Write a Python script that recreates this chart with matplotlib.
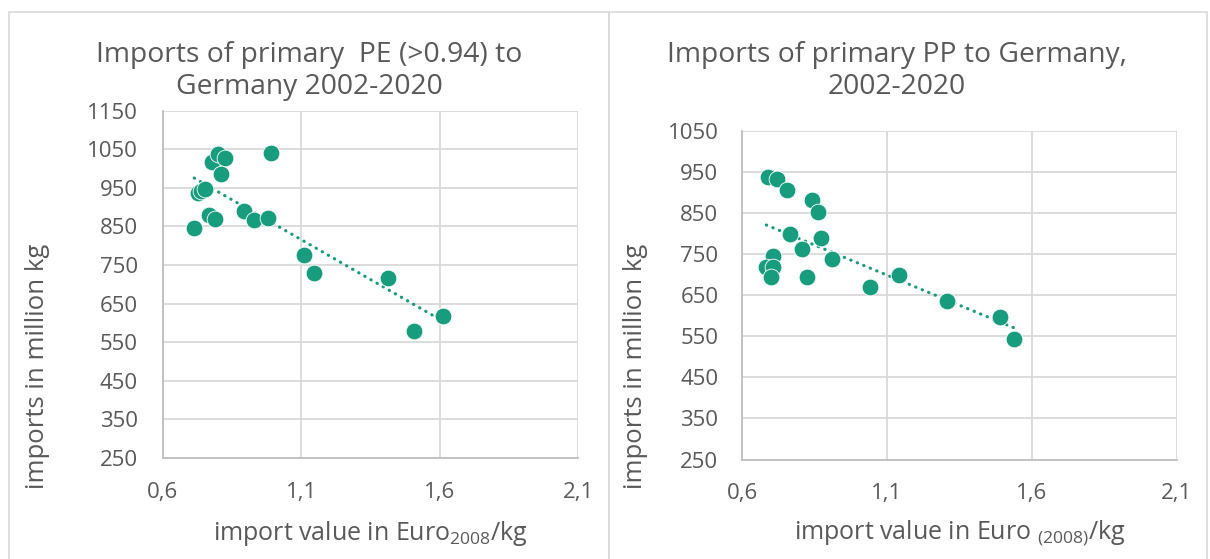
import numpy as np
import matplotlib
matplotlib.use("Agg")
import matplotlib.pyplot as plt
from matplotlib.patches import Rectangle

# PE imports (>0.94), 2002-2020
pe_value = [0.713, 0.725, 0.739, 0.751, 0.765, 0.788, 0.776, 0.800, 0.824, 0.808,
            0.990, 0.894, 0.930, 0.981, 1.111, 1.144, 1.412, 1.509, 1.612]
pe_amount = [847, 937, 942, 946, 880, 870, 1017, 1037, 1028, 985,
             1041, 890, 867, 873, 776, 730, 717, 579, 618]

# PP imports, 2002-2020
pp_value = [0.690, 0.722, 0.756, 0.843, 0.863, 0.767, 0.871, 0.808, 0.707, 0.684,
            0.707, 0.699, 0.824, 0.911, 1.040, 1.141, 1.308, 1.491, 1.538]
pp_amount = [938, 932, 905, 881, 852, 798, 790, 761, 745, 719,
             719, 693, 693, 737, 670, 699, 635, 596, 544]

xticks = [0.6, 1.1, 1.6, 2.1]
xtick_labels = ["0,6", "1,1", "1,6", "2,1"]
pe_yticks = list(range(250, 1151, 100))
pp_yticks = list(range(250, 1051, 100))

green = "#179C7D"
grey_txt = "#595959"
grid_col = "#D9D9D9"

plt.rcParams['font.family'] = ['Open Sans', 'DejaVu Sans']

fig = plt.figure(figsize=(12.1, 5.59), dpi=100)

# panel frames
for x0, w in [(9 / 1210, 600 / 1210), (609 / 1210, 598 / 1210)]:
    fig.add_artist(Rectangle((x0, -0.01), w, 1 - 12 / 559 + 0.01, transform=fig.transFigure,
                             fill=False, edgecolor=grid_col, linewidth=1.2))


def draw(ax, xs, ys, yticks, title, title_x, xlabel, ylabel_x, ypad):
    ax.set_xlim(0.6, 2.1)
    ax.set_ylim(yticks[0], yticks[-1])
    ax.set_xticks(xticks)
    ax.set_xticklabels(xtick_labels)
    ax.set_yticks(yticks)
    ax.grid(True, color=grid_col, linewidth=1.3)
    ax.set_axisbelow(True)
    for s in ["top", "right"]:
        ax.spines[s].set_visible(False)
    for s in ["left", "bottom"]:
        ax.spines[s].set_color("#BFBFBF")
        ax.spines[s].set_linewidth(1.3)
    ax.tick_params(length=0, labelsize=16, labelcolor=grey_txt, pad=17)
    ax.tick_params(axis="y", pad=ypad)

    ax.scatter(xs, ys, s=145, color=green, edgecolors="white", linewidths=0.6, zorder=3)

    # linear trend line
    k, d = np.polyfit(xs, ys, 1)
    tx = np.array([min(xs), max(xs)])
    ax.plot(tx, k * tx + d, color=green, linewidth=2.3,
            linestyle=(0, (0.1, 2.1)), dash_capstyle="round", zorder=2)

    fig.text(title_x, 1 - 71 / 559, title, ha="center", va="center",
             fontsize=20.3, color=grey_txt, linespacing=1.2)
    fig.text(xlabel[1], 1 - 533 / 559, xlabel[0],
             ha="center", va="center", fontsize=18, color=grey_txt)
    fig.text(ylabel_x, 1 - 366 / 559, "imports in million kg", rotation=90,
             ha="center", va="center", fontsize=18.5, color=grey_txt)


ax1 = fig.add_axes([163 / 1210, 1 - 458 / 559, 415 / 1210, 347.4 / 559])
draw(ax1, pe_value, pe_amount, pe_yticks,
     "Imports of primary  PE (>0.94) to\nGermany 2002-2020", 309 / 1210,
     ("import value in Euro$_{\\mathregular{2008}}$/kg", 370 / 1210), 38 / 1210, 18)

ax2 = fig.add_axes([742 / 1210, 1 - 459.6 / 559, 435 / 1210, 329 / 559])
draw(ax2, pp_value, pp_amount, pp_yticks,
     "Imports of primary PP to Germany,\n2002-2020", 897 / 1210,
     ("import value in Euro $_{\\mathregular{(2008)}}$/kg", 960 / 1210), 635 / 1210, 17)

fig.savefig("out.png", dpi=100)
